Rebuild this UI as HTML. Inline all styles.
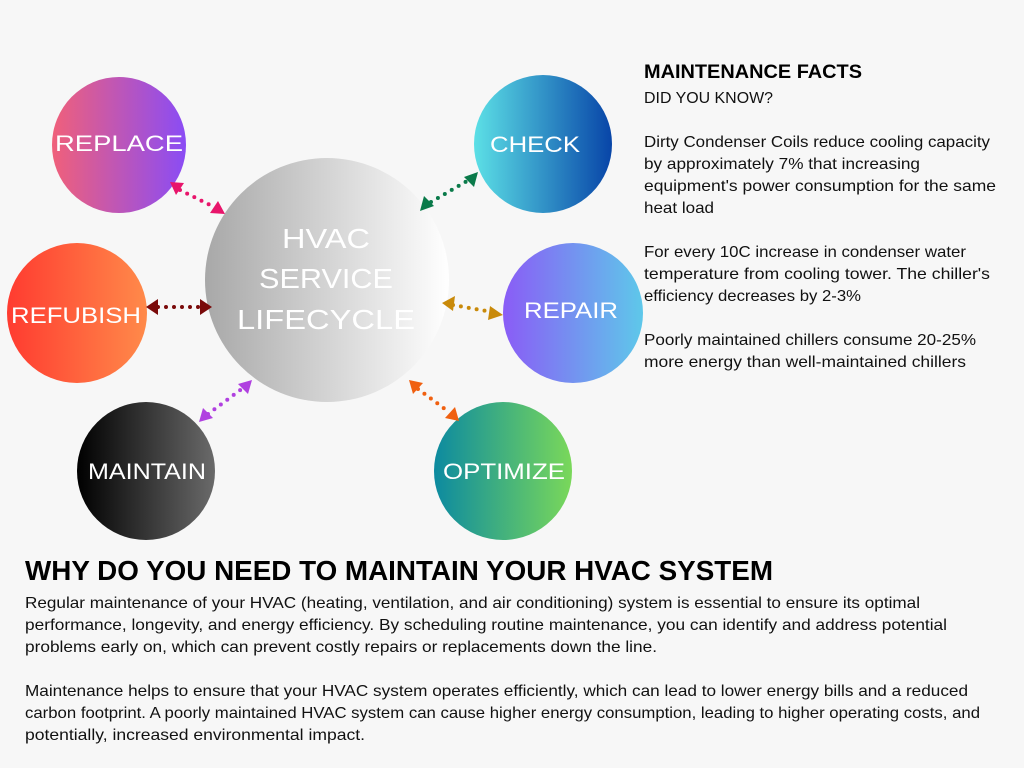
<!DOCTYPE html>
<html><head><meta charset="utf-8"><style>
html,body{margin:0;padding:0;background:#f7f7f7;}
svg{display:block}
.lbl{font-family:"Liberation Sans",sans-serif;fill:#fff;font-weight:normal;}
.t{font-family:"Liberation Sans",sans-serif;fill:#111;font-size:16px;}
.b{font-family:"Liberation Sans",sans-serif;fill:#000;font-weight:bold;}
</style></head><body>
<svg width="1024" height="768" viewBox="0 0 1024 768" xmlns="http://www.w3.org/2000/svg">
<defs>
<linearGradient id="gc" x1="0" x2="1"><stop offset="0" stop-color="#a8a8a8"/><stop offset="1" stop-color="#ffffff"/></linearGradient>
<linearGradient id="g1" x1="0" x2="1"><stop offset="0" stop-color="#f0607a"/><stop offset="1" stop-color="#8a4cf5"/></linearGradient>
<linearGradient id="g2" x1="0" x2="1"><stop offset="0" stop-color="#5ce0e6"/><stop offset="1" stop-color="#0845a8"/></linearGradient>
<linearGradient id="g3" x1="0" x2="1"><stop offset="0" stop-color="#ff3b30"/><stop offset="1" stop-color="#ff8a4a"/></linearGradient>
<linearGradient id="g4" x1="0" x2="1"><stop offset="0" stop-color="#8a5cf6"/><stop offset="1" stop-color="#5ec8ea"/></linearGradient>
<linearGradient id="g5" x1="0" x2="1"><stop offset="0" stop-color="#000"/><stop offset="1" stop-color="#6a6a6a"/></linearGradient>
<linearGradient id="g6" x1="0" x2="1"><stop offset="0" stop-color="#0c8aa0"/><stop offset="1" stop-color="#7ad85a"/></linearGradient>
</defs>
<rect width="1024" height="768" fill="#f7f7f7"/>
<circle cx="327" cy="280" r="122" fill="url(#gc)"/>
<ellipse cx="119" cy="145" rx="67" ry="68" fill="url(#g1)"/>
<ellipse cx="543" cy="144" rx="69" ry="69" fill="url(#g2)"/>
<ellipse cx="77" cy="313" rx="70" ry="70" fill="url(#g3)"/>
<ellipse cx="573" cy="313" rx="70" ry="70" fill="url(#g4)"/>
<ellipse cx="146" cy="471" rx="69" ry="69" fill="url(#g5)"/>
<ellipse cx="503" cy="471" rx="69" ry="69" fill="url(#g6)"/>

<g class="lbl">
<text x="326" y="248" font-size="28" text-anchor="middle" textLength="88" lengthAdjust="spacingAndGlyphs">HVAC</text>
<text x="326" y="288" font-size="28" text-anchor="middle" textLength="134" lengthAdjust="spacingAndGlyphs">SERVICE</text>
<text x="326" y="329" font-size="28" text-anchor="middle" textLength="178" lengthAdjust="spacingAndGlyphs">LIFECYCLE</text>
<text x="119" y="151" font-size="22" text-anchor="middle" textLength="128" lengthAdjust="spacingAndGlyphs">REPLACE</text>
<text x="535" y="152" font-size="22" text-anchor="middle" textLength="90" lengthAdjust="spacingAndGlyphs">CHECK</text>
<text x="76" y="323" font-size="22" text-anchor="middle" textLength="130" lengthAdjust="spacingAndGlyphs">REFUBISH</text>
<text x="571" y="318" font-size="22" text-anchor="middle" textLength="94" lengthAdjust="spacingAndGlyphs">REPAIR</text>
<text x="147" y="479" font-size="22" text-anchor="middle" textLength="118" lengthAdjust="spacingAndGlyphs">MAINTAIN</text>
<text x="504" y="479" font-size="22" text-anchor="middle" textLength="122" lengthAdjust="spacingAndGlyphs">OPTIMIZE</text>
</g>

<g stroke-width="4" stroke-linecap="round" stroke-dasharray="0 8" fill="none">
<line x1="180" y1="190" x2="214" y2="207" stroke="#e8156b"/>
<line x1="431" y1="202" x2="467" y2="181" stroke="#0a7a4a"/>
<line x1="158" y1="307" x2="201" y2="307" stroke="#7a0a0a"/>
<line x1="453" y1="305" x2="492" y2="312" stroke="#c98a0a"/>
<line x1="208" y1="414" x2="243" y2="388" stroke="#b040e0"/>
<line x1="418" y1="389" x2="449" y2="412" stroke="#f06010"/>
</g>
<g>
<polygon points="170,182 184,183 176,195" fill="#e8156b"/>
<polygon points="225,214 210,213 218,201" fill="#e8156b"/>
<polygon points="420,211 424,196 434,206" fill="#0a7a4a"/>
<polygon points="478,172 474,187 464,177" fill="#0a7a4a"/>
<polygon points="146,307 158,299 158,315" fill="#7a0a0a"/>
<polygon points="212,307 200,299 200,315" fill="#7a0a0a"/>
<polygon points="442,303 455,296 453,311" fill="#c98a0a"/>
<polygon points="503,315 490,306 488,320" fill="#c98a0a"/>
<polygon points="199,422 203,408 213,418" fill="#b040e0"/>
<polygon points="252,380 248,394 238,384" fill="#b040e0"/>
<polygon points="409,380 423,383 413,394" fill="#f06010"/>
<polygon points="459,421 445,418 455,407" fill="#f06010"/>
</g>

<text class="b" x="644" y="78" font-size="19" textLength="218" lengthAdjust="spacingAndGlyphs">MAINTENANCE FACTS</text>
<g class="t">
<text x="644" y="103" textLength="129" lengthAdjust="spacingAndGlyphs">DID YOU KNOW?</text>
<text x="644" y="147" textLength="346" lengthAdjust="spacingAndGlyphs">Dirty Condenser Coils reduce cooling capacity</text>
<text x="644" y="169" textLength="276" lengthAdjust="spacingAndGlyphs">by approximately 7% that increasing</text>
<text x="644" y="191" textLength="352" lengthAdjust="spacingAndGlyphs">equipment's power consumption for the same</text>
<text x="644" y="213" textLength="70" lengthAdjust="spacingAndGlyphs">heat load</text>
<text x="644" y="257" textLength="322" lengthAdjust="spacingAndGlyphs">For every 10C increase in condenser water</text>
<text x="644" y="279" textLength="346" lengthAdjust="spacingAndGlyphs">temperature from cooling tower. The chiller's</text>
<text x="644" y="301" textLength="217" lengthAdjust="spacingAndGlyphs">efficiency decreases by 2-3%</text>
<text x="644" y="345" textLength="332" lengthAdjust="spacingAndGlyphs">Poorly maintained chillers consume 20-25%</text>
<text x="644" y="367" textLength="322" lengthAdjust="spacingAndGlyphs">more energy than well-maintained chillers</text>
</g>

<text class="b" x="25" y="580" font-size="28" textLength="748" lengthAdjust="spacingAndGlyphs">WHY DO YOU NEED TO MAINTAIN YOUR HVAC SYSTEM</text>
<g class="t">
<text x="25" y="608" textLength="895" lengthAdjust="spacingAndGlyphs">Regular maintenance of your HVAC (heating, ventilation, and air conditioning) system is essential to ensure its optimal</text>
<text x="25" y="630" textLength="922" lengthAdjust="spacingAndGlyphs">performance, longevity, and energy efficiency. By scheduling routine maintenance, you can identify and address potential</text>
<text x="25" y="652" textLength="632" lengthAdjust="spacingAndGlyphs">problems early on, which can prevent costly repairs or replacements down the line.</text>
<text x="25" y="696" textLength="943" lengthAdjust="spacingAndGlyphs">Maintenance helps to ensure that your HVAC system operates efficiently, which can lead to lower energy bills and a reduced</text>
<text x="25" y="718" textLength="955" lengthAdjust="spacingAndGlyphs">carbon footprint. A poorly maintained HVAC system can cause higher energy consumption, leading to higher operating costs, and</text>
<text x="25" y="740" textLength="340" lengthAdjust="spacingAndGlyphs">potentially, increased environmental impact.</text>
</g>
</svg>
</body></html>
